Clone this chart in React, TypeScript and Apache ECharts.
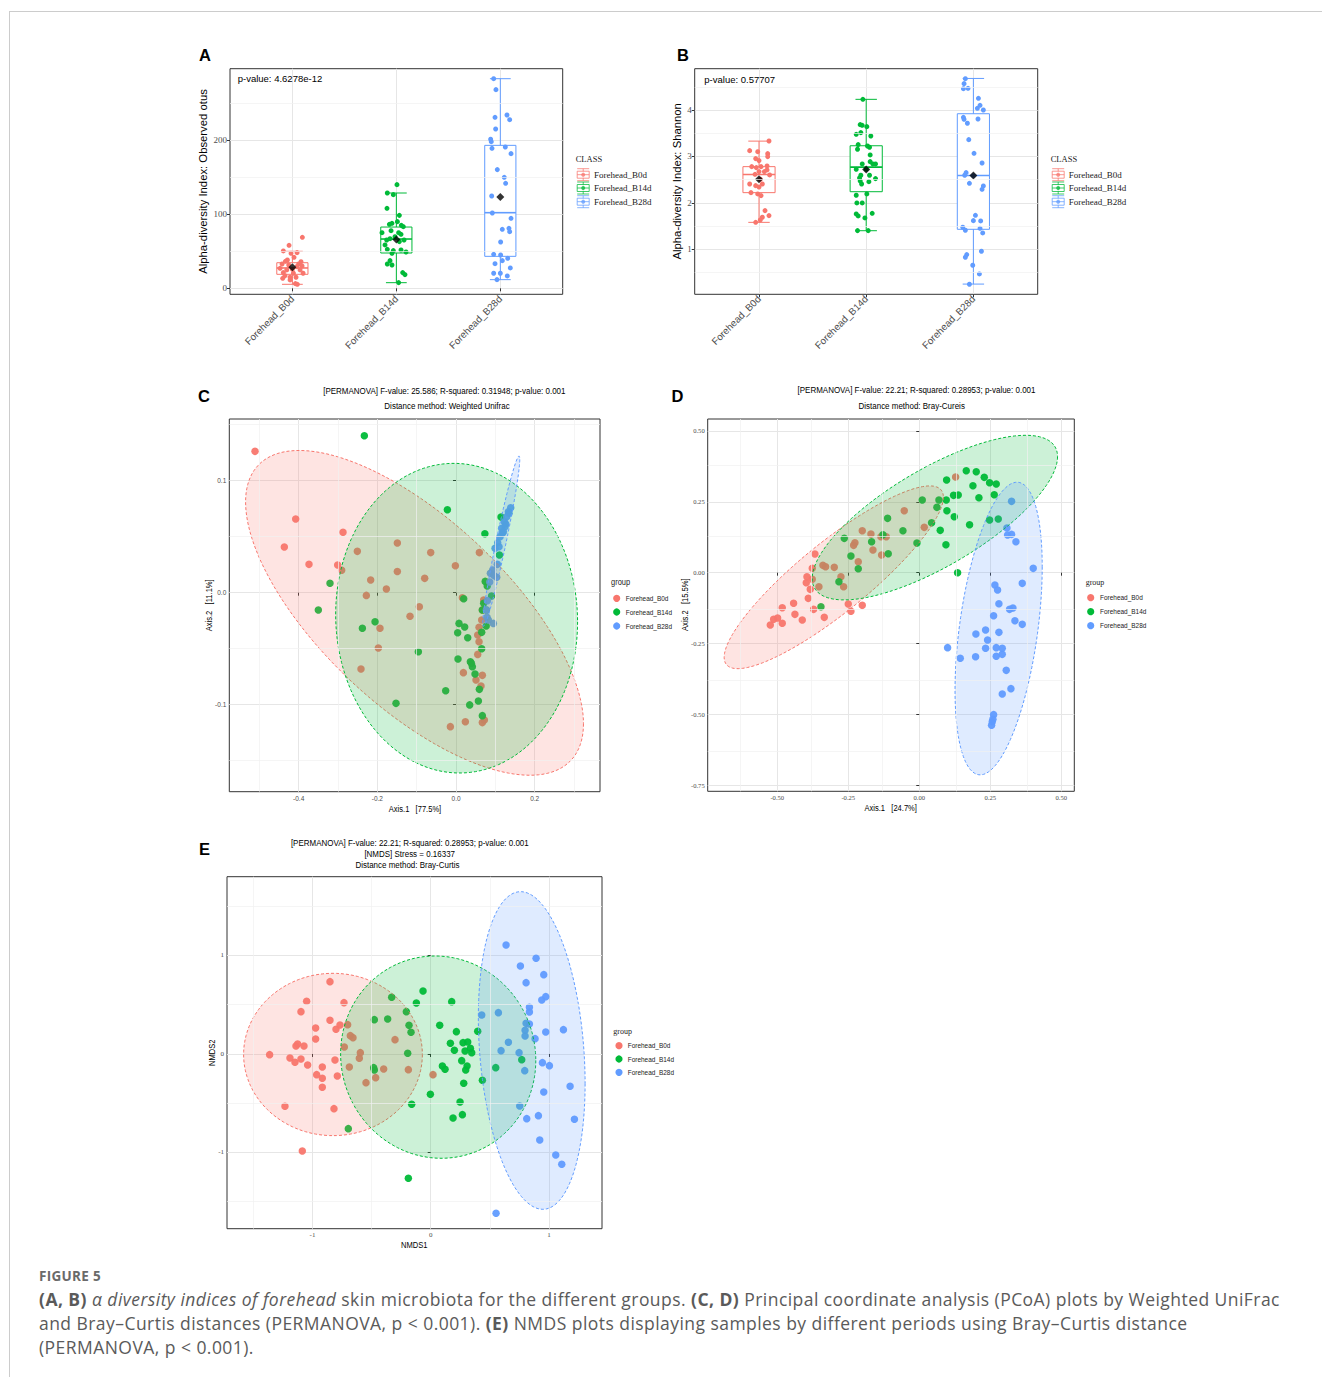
import React, { useEffect, useRef } from "react";
import * as echarts from "echarts";

const GROUPS = ["Forehead_B0d", "Forehead_B14d", "Forehead_B28d"];
const COLORS = ["#F8766D", "#00BA38", "#619CFF"];
const CAT_X = [1, 2, 3];

// ---------- Panel A : Observed otus ----------
const A_Y_TICKS = [0, 100, 200];
const A_Y_MINOR = [50, 150, 250];
// [lower whisker, Q1, median, Q3, upper whisker]
const A_BOX = [
  [5.4, 18.9, 27.5, 34.6, 50.0],
  [7.6, 47.7, 66.6, 82.8, 128.8],
  [11.7, 43.2, 102.2, 193.2, 283.3],
];
const A_MEAN = [28.4, 66.0, 123.4];
// [jitter offset, value]
const A_B0D = [[0.096,68.9],[-0.032,58.1],[-0.087,50.5],[-0.013,47.3],[0.045,48.2],[0.016,41.9],[-0.067,36.5],[0.083,36.0],[0.061,32.9],[-0.035,31.5],[-0.119,27.0],[-0.054,24.8],[0.042,29.3],[0.103,20.3],[-0.071,17.1],[-0.022,14.9],[-0.093,13.5],[0.029,6.3],[0.048,5.4],[0.010,20.3],[-0.087,21.2],[0.074,24.8],[-0.048,38.3],[0.035,14.9],[-0.022,11.3],[0.093,30.2],[-0.099,32.9],[0.000,25.7]];
const A_B14D = [[0.006,140.1],[-0.087,128.8],[-0.029,126.6],[-0.090,108.1],[0.029,98.6],[-0.042,87.8],[-0.067,86.5],[0.048,85.1],[-0.138,75.2],[-0.051,77.9],[0.022,75.2],[0.045,73.0],[-0.093,65.3],[-0.061,67.1],[0.029,63.1],[-0.087,52.7],[-0.029,50.9],[0.045,51.8],[0.093,49.1],[-0.042,47.3],[-0.061,37.4],[-0.087,32.9],[-0.042,31.5],[0.061,21.2],[0.083,18.5],[0.022,7.7],[0.067,83.3],[-0.013,69.8],[-0.109,58.6],[0.010,90.1],[0.074,65.3]];
const A_B28D = [[-0.064,283.3],[-0.042,268.5],[-0.051,231.1],[0.064,234.2],[0.090,227.9],[-0.045,215.3],[-0.093,201.4],[-0.087,198.2],[-0.080,189.2],[0.048,191.0],[0.103,182.0],[-0.029,160.4],[0.038,150.0],[0.051,141.9],[-0.083,124.8],[-0.077,101.8],[0.103,94.6],[0.019,79.7],[0.083,81.1],[0.090,76.6],[0.003,62.6],[-0.064,45.9],[0.003,45.0],[0.071,40.5],[0.019,37.4],[-0.051,33.3],[0.096,27.5],[-0.064,20.3],[0.000,20.3],[0.067,16.7],[-0.032,11.7]];

// ---------- Panel B : Shannon ----------
const B_Y_TICKS = [1, 2, 3, 4];
const B_Y_MINOR = [0.5, 1.5, 2.5, 3.5, 4.5];
const B_BOX = [
  [1.58, 2.22, 2.61, 2.78, 3.33],
  [1.40, 2.24, 2.77, 3.23, 4.23],
  [0.25, 1.43, 2.59, 3.92, 4.68],
];
const B_MEAN = [2.51, 2.72, 2.59];
const B_B0D = [[0.093,3.333],[-0.087,3.125],[-0.012,3.103],[0.081,3.060],[0.081,2.996],[-0.031,2.953],[0.000,2.910],[-0.068,2.780],[-0.025,2.759],[0.019,2.780],[0.075,2.795],[0.075,2.709],[0.000,2.673],[-0.037,2.615],[0.099,2.601],[0.012,2.508],[-0.087,2.407],[-0.031,2.371],[0.031,2.407],[0.000,2.342],[-0.075,2.220],[-0.012,2.192],[0.019,2.156],[0.056,1.833],[0.093,1.725],[0.031,1.689],[0.012,1.632],[-0.031,1.581],[0.050,2.673]];
const B_B14D = [[-0.031,4.230],[-0.056,3.685],[-0.037,3.670],[0.006,3.642],[-0.093,3.477],[-0.050,3.513],[0.043,3.441],[-0.075,3.254],[0.012,3.225],[0.031,3.197],[-0.081,3.154],[0.037,3.032],[-0.037,2.838],[0.037,2.888],[0.062,2.838],[0.087,2.838],[-0.093,2.723],[0.000,2.723],[-0.050,2.594],[0.031,2.594],[-0.062,2.536],[0.087,2.522],[-0.056,2.472],[0.025,2.457],[-0.043,2.407],[-0.093,2.163],[0.006,2.192],[-0.087,1.998],[-0.037,1.998],[-0.093,1.761],[-0.075,1.718],[0.056,1.775],[-0.012,1.675],[-0.081,1.402],[0.019,1.402]];
const B_B28D = [[-0.075,4.675],[-0.087,4.568],[-0.093,4.460],[-0.050,4.467],[0.047,4.252],[0.062,4.101],[0.037,4.037],[0.093,4.001],[-0.093,3.843],[-0.087,3.800],[-0.056,3.714],[0.043,3.807],[-0.043,3.362],[0.006,3.067],[0.081,2.859],[-0.068,2.651],[-0.081,2.594],[0.000,2.586],[-0.037,2.421],[0.093,2.364],[0.081,2.292],[0.019,1.732],[0.000,1.617],[0.068,1.610],[-0.099,1.474],[-0.075,1.409],[0.062,1.452],[0.087,1.352],[0.075,0.957],[-0.062,0.885],[-0.075,0.828],[-0.006,0.655],[0.056,0.469],[-0.037,0.246]];

// ---------- Panel C : PCoA weighted UniFrac ----------
const C_X_TICKS = [-0.4, -0.2, 0, 0.2];
const C_X_MINOR = [-0.5, -0.3, -0.1, 0.1, 0.3];
const C_Y_TICKS = [-0.1, 0, 0.1];
const C_Y_MINOR = [-0.15, -0.05, 0.05, 0.15];
const C_B0D = [[-0.511,0.1262],[-0.4076,0.0658],[-0.2873,0.0539],[-0.4365,0.0408],[-0.3738,0.0253],[-0.3009,0.0247],[-0.2907,0.0200],[-0.2509,0.0369],[-0.1492,0.0444],[-0.0644,0.0358],[-0.0017,0.0241],[0.0593,0.0358],[-0.1492,0.0190],[-0.2170,0.0113],[-0.0797,0.0128],[-0.1771,0.0033],[-0.2280,-0.0024],[-0.0933,-0.0125],[-0.1170,-0.0211],[-0.1933,-0.0318],[-0.1975,-0.0494],[-0.2416,-0.0681],[0.0161,-0.0045],[0.0703,-0.0065],[0.0669,-0.0155],[0.0652,-0.0244],[0.0585,-0.0309],[0.0551,-0.0378],[0.0585,-0.0438],[0.0551,-0.0551],[0.0187,-0.0714],[0.0669,-0.0738],[0.0508,-0.0780],[0.0635,-0.0833],[-0.0144,-0.1196],[0.0237,-0.1152],[0.0669,-0.1160],[0.0720,-0.1137]];
const C_B14D = [[-0.2331,0.1402],[-0.0220,0.0741],[0.0733,0.0527],[0.1144,0.0676],[0.1102,0.0337],[-0.3204,0.0084],[-0.3501,-0.0155],[0.0742,0.0101],[0.0793,0.0060],[0.0903,-0.0030],[0.0195,-0.0054],[0.0703,-0.0095],[0.0669,-0.0155],[0.0771,-0.0155],[0.0767,-0.0297],[-0.2059,-0.0259],[-0.2381,-0.0318],[0.0076,-0.0274],[0.0220,-0.0306],[0.0042,-0.0357],[0.0297,-0.0402],[0.0652,-0.0354],[0.0652,-0.0500],[-0.0958,-0.0527],[0.0050,-0.0592],[0.0364,-0.0616],[0.0415,-0.0661],[0.0483,-0.0726],[-0.0263,-0.0875],[0.0593,-0.0863],[-0.1526,-0.0988],[0.0347,-0.1002],[0.0568,-0.0967],[0.0669,-0.1098],[0.0390,-0.0630]];
const C_B28D = [[0.1390,0.0759],[0.1331,0.0723],[0.1288,0.0679],[0.1229,0.0634],[0.1263,0.0613],[0.1161,0.0575],[0.1178,0.0530],[0.1119,0.0500],[0.1059,0.0447],[0.0992,0.0396],[0.1093,0.0411],[0.1051,0.0253],[0.0932,0.0203],[0.0873,0.0173],[0.0958,0.0155],[0.1034,0.0137],[0.0856,0.0095],[0.0797,-0.0071],[0.0771,-0.0155],[0.0788,-0.0220],[0.0949,-0.0274],[0.0822,-0.0244],[0.1348,0.0709],[0.1246,0.0589],[0.1203,0.0545]];
// ellipse: [x left, x right, y bottom, y top, y at rightmost point]
const C_ELLIPSES = [
  [-0.535, 0.324, -0.163, 0.127, -0.117],
  [-0.306, 0.309, -0.161, 0.1155, -0.026],
  [0.068, 0.162, -0.030, 0.122, 0.119],
];

// ---------- Panel D : PCoA Bray-Curtis ----------
const D_X_TICKS = [-0.5, -0.25, 0, 0.25, 0.5];
const D_X_MINOR = [-0.625, -0.375, -0.125, 0.125, 0.375];
const D_Y_TICKS = [-0.75, -0.5, -0.25, 0, 0.25, 0.5];
const D_Y_MINOR = [-0.625, -0.375, -0.125, 0.125, 0.375];
const D_B0D = [[-0.5246,-0.1845],[-0.5129,-0.1645],[-0.4988,-0.1598],[-0.4824,-0.1786],[-0.4824,-0.1234],[-0.4425,-0.1081],[-0.4378,-0.1469],[-0.4120,-0.1669],[-0.3720,-0.1293],[-0.3345,-0.1575],[-0.3908,-0.0905],[-0.3838,-0.0588],[-0.3979,-0.0353],[-0.3955,-0.0141],[-0.3768,-0.0235],[-0.3533,-0.0494],[-0.3768,0.0153],[-0.3674,0.0658],[-0.3392,0.0259],[-0.3298,0.0212],[-0.2993,0.0188],[-0.2758,-0.0141],[-0.2664,-0.0494],[-0.2500,-0.1105],[-0.2406,-0.1363],[-0.2007,-0.1152],[-0.2148,0.0388],[-0.1631,0.0799],[-0.2007,0.1481],[-0.1702,0.1364],[-0.1350,0.1269],[-0.1162,0.1269],[-0.1326,0.0623],[-0.2312,0.0964],[-0.2265,0.1058],[-0.0528,0.2186],[0.0176,0.1599],[0.1280,0.3373]];
const D_B14D = [[-0.2641,0.1211],[-0.2406,0.0588],[-0.2148,0.0141],[-0.2829,-0.0317],[-0.3462,-0.1199],[-0.1678,0.1093],[-0.1279,0.1340],[-0.1115,0.1916],[-0.1092,0.0670],[-0.0575,0.1481],[-0.0082,0.1046],[0.0106,0.2562],[0.0434,0.1763],[0.0622,0.2304],[0.0739,0.1493],[0.0693,0.2562],[0.0963,0.3268],[0.0951,0.2562],[0.0974,0.2186],[0.0939,0.0987],[0.1232,0.1975],[0.1209,0.2727],[0.1373,0.2739],[0.1350,0.0000],[0.1655,0.3597],[0.1772,0.1693],[0.1890,0.3068],[0.2007,0.3561],[0.2101,0.2645],[0.2289,0.3362],[0.2477,0.3174],[0.2477,0.1857],[0.2641,0.2750],[0.2711,0.3127],[0.2782,0.1892]];
const D_B28D = [[0.3251,0.2515],[0.3087,0.1575],[0.3110,0.1328],[0.3251,0.1351],[0.3404,0.1093],[0.4014,0.0153],[0.2664,-0.0435],[0.2758,-0.0611],[0.3627,-0.0376],[0.2805,-0.1093],[0.3181,-0.1293],[0.3298,-0.1246],[0.2618,-0.1516],[0.3369,-0.1693],[0.3627,-0.1822],[0.2336,-0.2022],[0.1995,-0.2163],[0.2805,-0.2104],[0.2406,-0.2374],[0.2336,-0.2668],[0.2711,-0.2644],[0.2923,-0.2668],[0.0998,-0.2644],[0.1444,-0.3020],[0.1984,-0.2962],[0.2711,-0.2950],[0.2923,-0.2880],[0.3063,-0.3444],[0.3228,-0.4090],[0.2923,-0.4278],[0.2618,-0.5007],[0.2570,-0.5254],[0.2547,-0.5383],[0.2594,-0.5171]];
const D_ELLIPSES = [
  [-0.687, 0.085, -0.3385, 0.306, 0.266],
  [-0.377, 0.487, -0.096, 0.4845, 0.409],
  [0.126, 0.433, -0.713, 0.319, 0.021],
];

// ---------- Panel E : NMDS ----------
const E_X_TICKS = [-1, 0, 1];
const E_X_MINOR = [-1.5, -0.5, 0.5];
const E_Y_TICKS = [-1, 0, 1];
const E_Y_MINOR = [-1.5, -0.5, 0.5, 1.5];
const E_B0D = [[-1.3625,-0.0068],[-1.1904,-0.0406],[-1.1481,-0.0846],[-1.1396,0.0812],[-1.1255,0.1015],[-1.0973,-0.0508],[-1.0719,0.0812],[-1.0409,-0.1117],[-1.0973,0.4298],[-1.0494,0.5347],[-0.9732,0.2640],[-0.9732,0.1523],[-0.9647,-0.2098],[-0.9168,-0.1320],[-0.9168,-0.2470],[-0.9168,-0.3384],[-0.8519,0.7343],[-0.8519,0.3418],[-0.8096,-0.0609],[-0.8011,0.2504],[-0.7673,0.2944],[-0.7898,-0.2234],[-0.7334,0.5212],[-0.7306,0.0711],[-0.7024,0.2978],[-0.6883,-0.1320],[-0.6798,0.1861],[-0.6573,0.1658],[-0.6037,-0.0440],[-0.5952,0.0135],[-0.5473,-0.2910],[-0.4654,-0.2403],[-0.3977,-0.1523],[-0.3018,0.1455],[-0.1890,-0.1591],[0.0197,-0.2098],[-1.2327,-0.5313],[-0.8181,-0.5550],[-1.0860,-0.9848]];
const E_B14D = [[-0.6968,-0.7580],[-0.4767,0.3486],[-0.3639,0.3553],[-0.3300,0.5753],[-0.2059,0.4298],[-0.1834,0.2910],[-0.1664,0.2200],[-0.1946,0.0068],[-0.4824,-0.1387],[-0.4767,-0.1624],[-0.1213,0.5178],[-0.0649,0.6396],[-0.1890,-1.2623],[-0.1608,-0.5110],[-0.0028,-0.4095],[0.0762,0.2910],[0.1777,0.5313],[0.2172,0.2267],[0.1664,0.1083],[0.2003,0.0372],[0.0987,-0.1218],[0.1213,-0.1557],[0.2736,0.1151],[0.3131,0.1218],[0.2906,0.0305],[0.3357,0.0575],[0.3470,0.0135],[0.2623,-0.0677],[0.3075,-0.1218],[0.2962,-0.1624],[0.2793,-0.2978],[0.2482,-0.4873],[0.1890,-0.6497],[0.2680,-0.6159],[0.3977,0.2301],[0.4372,-0.2673],[0.5501,-0.1387],[0.7701,-0.0575]];
const E_B28D = [[0.6375,1.1066],[0.8914,0.9712],[0.7588,0.8934],[0.9563,0.8054],[0.8068,0.7242],[0.9394,0.5482],[0.9732,0.5821],[0.8350,0.4738],[0.8350,0.4264],[0.4316,0.3959],[0.5726,0.4196],[0.8068,0.3113],[0.8350,0.3046],[0.7983,0.2403],[0.9732,0.2234],[1.1227,0.2470],[0.7983,0.1827],[0.8829,0.1557],[0.6573,0.1184],[0.5952,0.0338],[0.7475,0.0135],[0.7955,-0.1692],[0.9450,-0.0880],[1.0042,-0.1184],[1.1791,-0.3283],[0.9563,-0.3858],[0.7532,-0.5279],[0.8124,-0.6565],[0.9111,-0.6261],[1.2158,-0.6633],[0.9224,-0.8731],[1.0578,-1.0254],[1.1086,-1.1201],[0.5529,-1.6176]];
const E_ELLIPSES = [
  [-1.5825, -0.0705, -0.829, 0.819, -0.005],
  [-0.762, 0.889, -1.059, 0.995, -0.065],
  [0.403, 1.306, -1.577, 1.648, -0.30],
];

// ---------- helpers ----------
const SANS = "Liberation Sans";
const SERIF = "Liberation Serif";
const BOX_W = 0.3;
const CAP_W = 0.2;

function rgba(hex: string, a: number) {
  const n = parseInt(hex.slice(1), 16);
  return `rgba(${(n >> 16) & 255},${(n >> 8) & 255},${n & 255},${a})`;
}

function gridBox(left: number, top: number, width: number, height: number) {
  return { left, top, width, height, show: true, borderColor: "#333", borderWidth: 1, backgroundColor: "transparent" };
}

function valueAxis(gi: number, min: number, max: number, ticks: number[], font: string, size: number, fmt: (v: number) => string, rotate = 0) {
  return {
    type: "value", gridIndex: gi, min, max,
    axisLine: { show: false },
    axisTick: { show: true, length: 3, lineStyle: { color: "#333", width: 1 }, customValues: ticks },
    axisLabel: { show: true, customValues: ticks, fontFamily: font, fontSize: size, color: "#4D4D4D", margin: 3, rotate, formatter: fmt },
    splitLine: { show: true, lineStyle: { color: "#E6E6E6", width: 1 } },
    minorSplitLine: { show: false },
  };
}

function minorGrid(idx: number, xs: number[], ys: number[]) {
  return {
    type: "scatter", xAxisIndex: idx, yAxisIndex: idx, data: [], z: 1, silent: true,
    markLine: {
      silent: true, symbol: ["none", "none"], label: { show: false }, animation: false,
      lineStyle: { color: "#F0F0F0", width: 0.7, type: "solid" },
      emphasis: { disabled: true },
      data: [...xs.map((v) => ({ xAxis: v })), ...ys.map((v) => ({ yAxis: v }))],
    },
  };
}

function boxRender(params: any, api: any) {
  const x = api.value(0);
  const lo = api.value(1), q1 = api.value(2), md = api.value(3), q3 = api.value(4), hi = api.value(5);
  const c = COLORS[params.dataIndex];
  const xl = api.coord([x - BOX_W / 2, md])[0];
  const xr = api.coord([x + BOX_W / 2, md])[0];
  const cl = api.coord([x - CAP_W / 2, md])[0];
  const cr = api.coord([x + CAP_W / 2, md])[0];
  const xc = api.coord([x, md])[0];
  const yLo = api.coord([x, lo])[1], yQ1 = api.coord([x, q1])[1], yMd = api.coord([x, md])[1];
  const yQ3 = api.coord([x, q3])[1], yHi = api.coord([x, hi])[1];
  const st = { stroke: c, lineWidth: 1, fill: "none" };
  return {
    type: "group",
    children: [
      { type: "line", shape: { x1: xc, y1: yLo, x2: xc, y2: yHi }, style: st },
      { type: "line", shape: { x1: cl, y1: yLo, x2: cr, y2: yLo }, style: st },
      { type: "line", shape: { x1: cl, y1: yHi, x2: cr, y2: yHi }, style: st },
      { type: "rect", shape: { x: xl, y: yQ3, width: xr - xl, height: yQ1 - yQ3 }, style: { stroke: c, fill: "#fff", lineWidth: 1 } },
      { type: "line", shape: { x1: xl, y1: yMd, x2: xr, y2: yMd }, style: { stroke: c, lineWidth: 1.6, fill: "none" } },
    ],
  };
}

function ellipseRender(params: any, api: any) {
  const xL = api.value(0), xR = api.value(1), yB = api.value(2), yT = api.value(3), yR = api.value(4);
  const cx = (xL + xR) / 2, ax = (xR - xL) / 2, cy = (yB + yT) / 2, ay = (yT - yB) / 2;
  const d = Math.acos(Math.max(-1, Math.min(1, (yR - cy) / ay)));
  const pts: number[][] = [];
  const N = 160;
  for (let k = 0; k < N; k++) {
    const t = (k / N) * Math.PI * 2;
    pts.push(api.coord([cx + ax * Math.cos(t), cy + ay * Math.cos(t + d)]));
  }
  const c = COLORS[params.dataIndex];
  return {
    type: "polygon",
    shape: { points: pts },
    style: { fill: rgba(c, 0.2), stroke: c, lineWidth: 1, lineDash: [3, 2] },
  };
}

function boxPanelSeries(idx: number, box: number[][], mean: number[], groups: number[][][]) {
  const s: any[] = [];
  s.push({
    type: "custom", xAxisIndex: idx, yAxisIndex: idx, z: 2, silent: true,
    data: box.map((b, i) => [CAT_X[i], ...b]),
    encode: { x: 0, y: [1, 2, 3, 4, 5] },
    renderItem: boxRender,
  });
  groups.forEach((g, i) => {
    s.push({
      type: "scatter", name: GROUPS[i], xAxisIndex: idx, yAxisIndex: idx, z: 3, silent: true,
      data: g.map(([dx, v]) => [CAT_X[i] + dx, v]),
      symbolSize: 5, itemStyle: { color: COLORS[i], opacity: 1 },
    });
  });
  s.push({
    type: "scatter", xAxisIndex: idx, yAxisIndex: idx, z: 4, silent: true,
    data: mean.map((m, i) => [CAT_X[i], m]),
    symbol: "diamond", symbolSize: 8, itemStyle: { color: "#000" },
  });
  return s;
}

function ordPanelSeries(idx: number, groups: number[][][], ellipses: number[][]) {
  const s: any[] = [];
  groups.forEach((g, i) => {
    s.push({
      type: "scatter", name: GROUPS[i], xAxisIndex: idx, yAxisIndex: idx, z: 3, silent: true,
      data: g, symbolSize: 7.5, itemStyle: { color: COLORS[i], opacity: 0.95 },
    });
  });
  s.push({
    type: "custom", xAxisIndex: idx, yAxisIndex: idx, z: 4, silent: true,
    data: ellipses, encode: { x: [0, 1], y: [2, 3] },
    renderItem: ellipseRender,
  });
  return s;
}

function txt(text: string, x: number, y: number, o: any = {}) {
  return {
    type: "text", x, y, rotation: o.rotation || 0, scaleX: o.scaleX || 1, silent: true, z: 10,
    style: {
      text, fill: o.fill || "#000", fontSize: o.size || 10, fontFamily: o.font || SANS,
      fontWeight: o.weight || "normal", fontStyle: o.style || "normal",
      align: o.align || "center", verticalAlign: "middle",
      textAlign: o.align || "center", textVerticalAlign: "middle",
    },
  };
}

function boxLegend(x: number, yTitle: number, ys: number[], textX: number) {
  const els: any[] = [txt("CLASS", x, yTitle, { align: "left", font: SERIF, size: 8.5, fill: "#222" })];
  ys.forEach((y, i) => {
    const c = COLORS[i];
    const cx = x + 7.5;
    const st = { stroke: c, lineWidth: 1, fill: "none", opacity: 0.75 };
    els.push({ type: "line", silent: true, z: 10, shape: { x1: cx, y1: y - 6, x2: cx, y2: y + 6 }, style: st });
    els.push({ type: "line", silent: true, z: 10, shape: { x1: cx - 6, y1: y - 6, x2: cx + 6, y2: y - 6 }, style: st });
    els.push({ type: "line", silent: true, z: 10, shape: { x1: cx - 6, y1: y + 6, x2: cx + 6, y2: y + 6 }, style: st });
    els.push({ type: "rect", silent: true, z: 10, shape: { x: cx - 6, y: y - 3.5, width: 12, height: 7 }, style: { stroke: c, fill: "#fff", lineWidth: 1, opacity: 0.75 } });
    els.push({ type: "line", silent: true, z: 10, shape: { x1: cx - 6, y1: y, x2: cx + 6, y2: y }, style: st });
    els.push({ type: "circle", silent: true, z: 11, shape: { cx, cy: y, r: 2 }, style: { fill: c, opacity: 0.75 } });
    els.push(txt(GROUPS[i], textX, y, { align: "left", font: SERIF, size: 9, fill: "#222" }));
  });
  return els;
}

function dotLegend(x: number, yTitle: number, ys: number[], cx: number, textX: number, titleFont: string) {
  const els: any[] = [txt("group", x, yTitle, { align: "left", font: titleFont, size: titleFont === SERIF ? 8 : 8.5, fill: "#222", scaleX: titleFont === SERIF ? 1 : 0.88 })];
  ys.forEach((y, i) => {
    els.push({ type: "circle", silent: true, z: 10, shape: { cx, cy: y, r: 3.6 }, style: { fill: COLORS[i] } });
    els.push(txt(GROUPS[i], textX, y, { align: "left", size: 7.2, fill: "#222", scaleX: 0.9 }));
  });
  return els;
}

const fmtInt = (v: number) => String(Math.round(v));
const fmtCat = (v: number) => GROUPS[Math.round(v) - 1] || "";
const fmt1 = (v: number) => (Math.abs(v) < 1e-9 ? "0.0" : v.toFixed(1));
const fmt2 = (v: number) => (Math.abs(v) < 1e-9 ? "0.00" : v.toFixed(2));

function buildOption() {
  const grids = [
    gridBox(230, 68.7, 332.7, 225.6),
    gridBox(694.7, 68.7, 343, 225.6),
    gridBox(229.3, 419, 370.7, 372.7),
    gridBox(707.7, 419, 366.6, 372.3),
    gridBox(227, 876.7, 375, 352),
  ];
  const xAxis = [
    valueAxis(0, 0.4, 3.6, CAT_X, SANS, 9.8, fmtCat, 45),
    valueAxis(1, 0.4, 3.6, CAT_X, SANS, 9.8, fmtCat, 45),
    valueAxis(2, -0.5764, 0.366, C_X_TICKS, SANS, 6.5, fmt1),
    valueAxis(3, -0.745, 0.546, D_X_TICKS, SERIF, 6.6, fmt2),
    valueAxis(4, -1.723, 1.449, E_X_TICKS, SERIF, 7, fmtInt),
  ];
  const yAxis = [
    valueAxis(0, -8.1, 296.8, A_Y_TICKS, SERIF, 9, fmtInt),
    valueAxis(1, 0.03, 4.89, B_Y_TICKS, SERIF, 9, fmtInt),
    valueAxis(2, -0.1777, 0.1551, C_Y_TICKS, SANS, 6.5, fmt1),
    valueAxis(3, -0.771, 0.542, D_Y_TICKS, SERIF, 6.6, fmt2),
    valueAxis(4, -1.774, 1.8, E_Y_TICKS, SERIF, 7, fmtInt),
  ];
  const series: any[] = [
    minorGrid(0, [], A_Y_MINOR),
    minorGrid(1, [], B_Y_MINOR),
    minorGrid(2, C_X_MINOR, C_Y_MINOR),
    minorGrid(3, D_X_MINOR, D_Y_MINOR),
    minorGrid(4, E_X_MINOR, E_Y_MINOR),
    ...boxPanelSeries(0, A_BOX, A_MEAN, [A_B0D, A_B14D, A_B28D]),
    ...boxPanelSeries(1, B_BOX, B_MEAN, [B_B0D, B_B14D, B_B28D]),
    ...ordPanelSeries(2, [C_B0D, C_B14D, C_B28D], C_ELLIPSES),
    ...ordPanelSeries(3, [D_B0D, D_B14D, D_B28D], D_ELLIPSES),
    ...ordPanelSeries(4, [E_B0D, E_B14D, E_B28D], E_ELLIPSES),
  ];
  const N = 0.84;
  const graphic: any[] = [
    // panel letters
    txt("A", 199, 54.5, { align: "left", size: 16.5, weight: "bold" }),
    txt("B", 677, 54.5, { align: "left", size: 16.5, weight: "bold" }),
    txt("C", 198, 396, { align: "left", size: 16.5, weight: "bold" }),
    txt("D", 671.5, 396, { align: "left", size: 16.5, weight: "bold" }),
    txt("E", 199, 849.3, { align: "left", size: 16.5, weight: "bold" }),
    // A / B annotations
    txt("p-value: 4.6278e-12", 237.7, 78.7, { align: "left", size: 9.5 }),
    txt("p-value: 0.57707", 704.3, 79.3, { align: "left", size: 9.5 }),
    txt("Alpha-diversity Index: Observed otus", 203.3, 181.5, { size: 11.3, rotation: Math.PI / 2 }),
    txt("Alpha-diversity Index: Shannon", 677.3, 181.3, { size: 11.3, rotation: Math.PI / 2 }),
    ...boxLegend(575.7, 159, [174.7, 188, 201.7], 594),
    ...boxLegend(1050.7, 159, [174.7, 188, 201.7], 1068.7),
    // C
    txt("[PERMANOVA] F-value: 25.586; R-squared: 0.31948; p-value: 0.001", 444.3, 390.7, { size: 9.5, scaleX: N }),
    txt("Distance method: Weighted Unifrac", 447, 405.7, { size: 9.5, scaleX: N }),
    txt("Axis.1   [77.5%]", 415, 808.3, { size: 9, scaleX: N }),
    txt("Axis.2   [11.1%]", 209, 605.3, { size: 9, scaleX: N, rotation: Math.PI / 2 }),
    ...dotLegend(611, 582.7, [598.3, 612, 626], 616.7, 625.7, SANS),
    // D
    txt("[PERMANOVA] F-value: 22.21; R-squared: 0.28953; p-value: 0.001", 916.5, 390, { size: 9.5, scaleX: N }),
    txt("Distance method: Bray-Cureis", 911.7, 405.7, { size: 9.5, scaleX: N }),
    txt("Axis.1   [24.7%]", 890.7, 807.7, { size: 9, scaleX: N }),
    txt("Axis.2   [15.5%]", 684.3, 604.7, { size: 9, scaleX: N, rotation: Math.PI / 2 }),
    ...dotLegend(1085.7, 582.3, [597.7, 611.7, 625.7], 1090.7, 1100, SERIF),
    // E
    txt("[PERMANOVA] F-value: 22.21; R-squared: 0.28953; p-value: 0.001", 409.8, 842.3, { size: 9.5, scaleX: N }),
    txt("[NMDS] Stress = 0.16337", 409.7, 853.3, { size: 9.5, scaleX: N }),
    txt("Distance method: Bray-Curtis", 407.5, 864.3, { size: 9.5, scaleX: N }),
    txt("NMDS1", 414.3, 1245, { size: 9, scaleX: N }),
    txt("NMDS2", 211.7, 1052.7, { size: 9, scaleX: N, rotation: Math.PI / 2 }),
    ...dotLegend(613.3, 1031.7, [1045.7, 1059, 1072.3], 619, 627.7, SERIF),
  ];
  return {
    animation: false,
    backgroundColor: "transparent",
    textStyle: { fontFamily: SANS },
    grid: grids,
    xAxis,
    yAxis,
    series,
    graphic,
  };
}

export default function App() {
  const ref = useRef<HTMLDivElement>(null);
  useEffect(() => {
    if (!ref.current) return;
    const chart = echarts.init(ref.current, undefined, { renderer: "svg" });
    chart.setOption(buildOption() as any);
    return () => chart.dispose();
  }, []);
  const bold = { fontWeight: 700 } as const;
  return (
    <>
      <div style={{ position: "absolute", left: 9, top: 11, width: 1313, height: 1366, borderTop: "1px solid #CCCCCC", borderLeft: "1px solid #CCCCCC", boxSizing: "border-box" }} />
      <div ref={ref} style={{ position: "absolute", left: 0, top: 0, width: 1322, height: 1377 }} />
      <div style={{ position: "absolute", left: 39, top: 1265, width: 1280, fontFamily: '"Open Sans", sans-serif', color: "#5A5A5A", whiteSpace: "nowrap" }}>
        <div style={{ fontSize: 13.5, fontWeight: 700, lineHeight: "22px", color: "#6A6A6A", letterSpacing: "0.3px" }}>FIGURE 5</div>
        <div style={{ fontSize: 17.5, lineHeight: "24px", letterSpacing: "0.45px" }}>
          <span style={bold}>(A, B)</span> <i>α diversity indices of forehead</i> skin microbiota for the different groups. <span style={bold}>(C, D)</span> Principal coordinate analysis (PCoA) plots by Weighted UniFrac
          <br />
          and Bray–Curtis distances (PERMANOVA, p &lt; 0.001). <span style={bold}>(E)</span> NMDS plots displaying samples by different periods using Bray–Curtis distance
          <br />
          (PERMANOVA, p &lt; 0.001).
        </div>
      </div>
    </>
  );
}
